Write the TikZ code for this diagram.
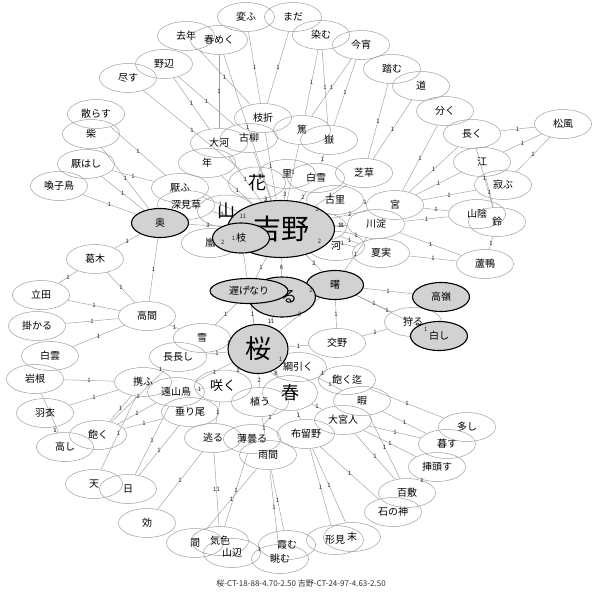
\documentclass[tikz,border=0pt]{standalone}
\usepackage{fontspec}
\setmainfont{Noto Sans CJK JP}
\usetikzlibrary{shapes.geometric,backgrounds}
\begin{document}
\begin{tikzpicture}[x=1pt,y=-1pt,
  w/.style={ellipse,draw=gray!75,line width=0.5pt,minimum width=57pt,minimum height=29pt,inner sep=0pt,font=\fontsize{10}{12}\selectfont},
  g/.style={w,draw=black,line width=1.1pt,fill=gray!35},
  lnk/.style={draw=gray!75,line width=0.45pt},
  wl/.style={font=\fontsize{6}{6}\selectfont,inner sep=0.5pt,text=black!85}
]
\useasboundingbox (0,0) rectangle (600,598);
% plain nodes
\node[w] (kawaru) at (246,17) {変ふ};
\node[w] (mada) at (293,17) {まだ};
\node[w] (kyonen) at (186,36) {去年};
\node[w] (harumeku) at (219,40) {春めく};
\node[w] (somu) at (321,35) {染む};
\node[w] (koyoi) at (361,45) {今宵};
\node[w] (fumu) at (392,69) {踏む};
\node[w] (michi) at (421,86) {道};
\node[w] (waku) at (445,111) {分く};
\node[w] (nagaku) at (472,134) {長く};
\node[w] (matsukaze) at (563,124) {松風};
\node[w] (enode) at (482,162) {江};
\node[w] (sabu) at (503,185) {寂ぶ};
\node[w] (nobe) at (164,64) {野辺};
\node[w] (tsukusu) at (128,78) {尽す};
\node[w] (chirasu) at (96,114) {散らす};
\node[w] (shiba) at (91,134) {柴};
\node[w] (itowashi) at (86,164) {厭はし};
\node[w] (yobuko) at (59,186) {喚子鳥};
\node[w] (shiori) at (263,118) {枝折};
\node[w] (koyanagi) at (249,138) {古柳};
\node[w] (taiga) at (219,143) {大河};
\node[w] (toshi) at (207,163) {年};
\node[w] (atsu) at (302,130) {篤};
\node[w] (take) at (329,140) {嶽};
\node[w,font=\fontsize{18}{20}\selectfont,minimum height=32pt] (hana) at (257,183) {花};
\node[w] (sato) at (287,174) {里};
\node[w] (shirayuki) at (316,178) {白雪};
\node[w] (shibakusa) at (364,173) {芝草};
\node[w] (furusato) at (335,200) {古里};
\node[w] (miya) at (395,205) {宮};
\node[w] (kawayodo) at (376,224) {川淀};
\node[w] (yamakage) at (477,214) {山陰};
\node[w] (suzu) at (497,222) {鈴};
\node[w] (mine) at (318,227) {峰};
\node[w] (kawa) at (336,246) {河};
\node[w] (natsumi) at (381,253) {夏実};
\node[w] (ashigamo) at (485,264) {蘆鴨};
\node[w,font=\fontsize{18}{20}\selectfont,minimum height=32pt] (yama) at (226,211) {山};
\node[w] (itou) at (180,188) {厭ふ};
\node[w] (fukamigusa) at (186,205) {深見草};
\node[w] (arashi) at (210,243) {嵐};
\node[w] (karu) at (413,322) {狩る};
\node[w] (katano) at (337,343) {交野};
\node[w] (yuki) at (202,338) {雪};
\node[w] (naganagashi) at (178,357) {長長し};
\node[w] (tsunahiku) at (298,367) {綱引く};
\node[w] (akumade) at (347,380) {飽く迄};
\node[w] (itoma) at (362,401) {暇};
\node[w] (oomiyabito) at (343,420) {大宮人};
\node[w] (furuno) at (306,434) {布留野};
\node[w,font=\fontsize{18}{20}\selectfont,minimum width=55pt,minimum height=35pt] (haru) at (290,393) {春};
\node[w,font=\fontsize{13}{15}\selectfont,minimum height=32pt] (saku) at (223,386) {咲く};
\node[w] (uu) at (260,402) {植う};
\node[w] (tazusau) at (143,382) {携ふ};
\node[w] (tooyamadori) at (176,392) {遠山鳥};
\node[w] (shidario) at (190,412) {垂り尾};
\node[w] (iwane) at (35,379) {岩根};
\node[w] (shirakumo) at (50,356) {白雲};
\node[w] (kakaru) at (37,326) {掛かる};
\node[w] (tatsuta) at (41,295) {立田};
\node[w] (katsuragi) at (95,259) {葛木};
\node[w] (takama) at (147,316) {高間};
\node[w] (hagoromo) at (45,413) {羽衣};
\node[w] (takashi) at (65,447) {高し};
\node[w] (aku) at (98,435) {飽く};
\node[w] (ten) at (94,484) {天};
\node[w] (hi) at (128,489) {日};
\node[w] (kai) at (147,523) {効};
\node[w] (noru) at (213,438) {逃る};
\node[w] (usugumoru) at (252,439) {薄曇る};
\node[w] (amama) at (268,455) {雨間};
\node[w] (ma) at (195,543) {間};
\node[w] (keshiki) at (220,541) {気色};
\node[w] (yamabe) at (232,553) {山辺};
\node[w] (kasumu) at (287,545) {霞む};
\node[w] (nagamu) at (280,559) {眺む};
\node[w] (katami) at (335,540) {形見};
\node[w] (sue) at (352,537) {末};
\node[w] (isonokami) at (393,512) {石の神};
\node[w] (momoshiki) at (407,493) {百敷};
\node[w] (kazasu) at (437,467) {挿頭す};
\node[w] (kurasu) at (447,444) {暮す};
\node[w] (ooshi) at (467,427) {多し};
% gray nodes
\node[g] (oku) at (160,223) {奥};
\node[g] (takane) at (441,297) {高嶺};
\node[g] (shiroshi) at (439,336) {白し};
\node[g] (akebono) at (335,285) {曙};
\node[g,minimum width=67pt,minimum height=40pt,font=\fontsize{16}{18}\selectfont] (ru) at (282,297) {\hspace{14pt}る};
\node[g,minimum width=78pt,minimum height=25pt] (osoge) at (249,291) {遅げなり};
\node[g,minimum width=107pt,minimum height=57pt,font=\fontsize{28}{30}\selectfont] (yoshino) at (281,229) {吉野};
\node[g,minimum width=57pt,minimum height=30pt] (eda) at (241,238) {枝};
\node[g,minimum width=60pt,minimum height=49pt,font=\fontsize{26}{28}\selectfont] (sakura) at (258,349) {桜};
\def\edgelist{kawaru/shiori/1,mada/shiori/1,kyonen/shiori/1,harumeku/taiga/1,harumeku/yoshino/1,
nobe/taiga/1,nobe/koyanagi/1,tsukusu/hana/1,chirasu/itou/1,shiba/oku/1,itowashi/itou/1,itowashi/oku/1,
yobuko/oku/1,shiori/yoshino/1,koyanagi/yoshino/1,taiga/yoshino/1,toshi/yoshino/1,somu/atsu/1,somu/take/1,
koyoi/atsu/1,koyoi/take/1,atsu/yoshino/1,take/shirayuki/1,hana/yoshino/3,sato/yoshino/3,shirayuki/yoshino/2,
furusato/yoshino/2,shibakusa/yoshino/1,yama/yoshino/11,itou/yoshino/1,fukamigusa/yoshino/3,oku/yoshino/3,
arashi/yoshino/1,mine/yoshino/3,kawa/yoshino/2,eda/yoshino/2,natsumi/yoshino/1,kawayodo/yoshino/11,miya/yoshino/2,
fumu/shibakusa/1,michi/shibakusa/1,waku/miya/1,nagaku/miya/1,nagaku/matsukaze/1,enode/matsukaze/1,
sabu/matsukaze/1,enode/miya/1,sabu/miya/1,miya/yamakage/1,kawayodo/yamakage/1,kawayodo/ashigamo/1,
natsumi/ashigamo/1,suzu/ashigamo/1,nagaku/suzu/1,enode/suzu/1,furusato/miya/1,kawayodo/akebono/1,
natsumi/mine/1,kawa/kawayodo/1,akebono/yoshino/2,akebono/ru/2,akebono/takane/1,akebono/karu/1,
akebono/shiroshi/1,karu/shiroshi/1,akebono/katano/1,katano/karu/1,ru/yoshino/6,ru/sakura/11,
osoge/yoshino/1,osoge/sakura/1,osoge/yuki/1,eda/sakura/1,akebono/sakura/3,sakura/yuki/1,
sakura/naganagashi/1,sakura/saku/1,sakura/uu/2,sakura/haru/8,sakura/tsunahiku/1,sakura/tooyamadori/1,
sakura/katano/1,oku/katsuragi/1,oku/takama/1,katsuragi/takama/1,katsuragi/tatsuta/1,tatsuta/takama/1,
kakaru/takama/1,shirakumo/takama/1,takama/yuki/1,iwane/tazusau/1,hagoromo/tazusau/1,iwane/takashi/1,
hagoromo/takashi/1,aku/tazusau/1,aku/tooyamadori/1,aku/shidario/1,ten/tazusau/1,hi/shidario/1,
hi/tooyamadori/1,naganagashi/tazusau/1,naganagashi/aku/1,saku/tooyamadori/1,kai/noru/1,ma/amama/1,
keshiki/noru/11,keshiki/usugumoru/1,kasumu/amama/1,nagamu/amama/1,yamabe/kasumu/1,katami/furuno/1,
sue/furuno/1,isonokami/furuno/1,momoshiki/oomiyabito/1,momoshiki/itoma/1,momoshiki/kazasu/1,
kazasu/oomiyabito/1,kurasu/itoma/1,kurasu/oomiyabito/1,ooshi/akumade/1,haru/furuno/1,haru/oomiyabito/1,
uu/amama/1,saku/noru/1,tsunahiku/akumade/1,tsunahiku/itoma/1,haru/usugumoru/1}
\begin{scope}[on background layer]
\fill[white] (0,0) rectangle (600,598);
\foreach \a/\b/\w in \edgelist {\draw[lnk] (\a) -- (\b);}
\end{scope}
\foreach \a/\b/\w in \edgelist {\path (\a) -- node[wl]{\w} (\b);}
\node[font=\fontsize{8}{9}\selectfont,text=black!80] (cap) at (301,583) {桜-CT-18-88-4.70-2.50 吉野-CT-24-97-4.63-2.50};
\end{tikzpicture}
\end{document}
